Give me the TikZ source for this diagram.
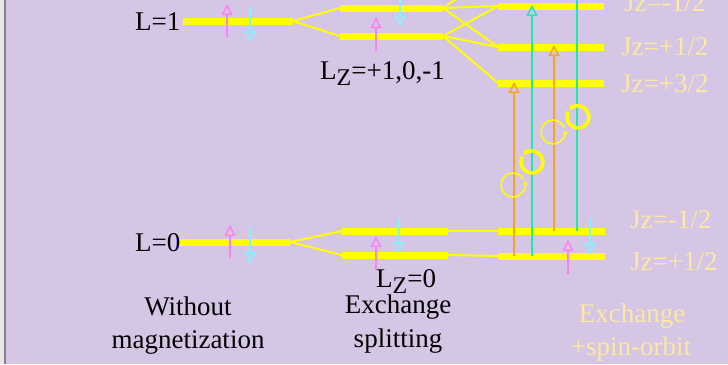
\documentclass[tikz,border=0pt]{standalone}
\usepackage{fontspec}
\setmainfont{Liberation Serif}
\usetikzlibrary{arrows.meta}
\definecolor{bg}{HTML}{D6C6E6}
\definecolor{lvlyel}{HTML}{FFFF00}
\definecolor{spinup}{HTML}{FF80F0}
\definecolor{spindn}{HTML}{80F4FF}
\definecolor{orng}{HTML}{FFA020}
\definecolor{tealc}{HTML}{20E8A8}
\definecolor{paleyel}{HTML}{FCE8A0}
\definecolor{edgegray}{HTML}{E8E8E2}
\definecolor{edgeline}{HTML}{8A7A9A}
\newcommand{\subZ}{\raisebox{-6pt}{\fontsize{24}{24}\selectfont Z}}
\begin{document}
\begin{tikzpicture}[x=1pt,y=-1pt,
  level/.style={line width=7pt, lvlyel},
  link/.style={line width=2pt, lvlyel},
  upspin/.style={line width=2pt, spinup, -{Triangle[open,width=11pt,length=11pt,line width=1.5pt]}},
  dnspin/.style={line width=2pt, spindn, -{Triangle[open,width=11pt,length=11pt,line width=1.5pt]}},
  trans/.style={line width=2.5pt, -{Triangle[open,width=11pt,length=11pt,line width=1.5pt]}},
  thinpol/.style={line width=1.5pt, lvlyel, -{Stealth[length=5pt,width=5pt]}},
  thickpol/.style={line width=3.5pt, lvlyel, -{Stealth[length=5pt,width=6pt]}},
  lbl/.style={font=\fontsize{27}{30}\selectfont, inner sep=0pt, anchor=base west},
  clbl/.style={font=\fontsize{27}{30}\selectfont, inner sep=0pt, anchor=base},
]
\useasboundingbox (0,0) rectangle (728,364);
\clip (0,0) rectangle (728,364);
\fill[bg] (0,0) rectangle (728,364);
\fill[edgegray] (0,0) rectangle (4,364);
\draw[edgeline, line width=1.5pt] (4.8,0) -- (4.8,364);

% ---- level coordinates
% L=1
\coordinate (La) at (183,21); \coordinate (Lb) at (293,21);
\coordinate (Ea) at (340,8);  \coordinate (Eb) at (443,8);
\coordinate (Fa) at (340,36); \coordinate (Fb) at (443,36);
\coordinate (Ja) at (498,6);  \coordinate (Jb) at (604,6);
\coordinate (Ka) at (498,47); \coordinate (Kb) at (604,47);
\coordinate (Ma) at (498,83); \coordinate (Mb) at (604,83);
\coordinate (Up) at (498,-29);
% L=0
\coordinate (Oa) at (180,242); \coordinate (Ob) at (290,242);
\coordinate (Pa) at (342,231); \coordinate (Pb) at (448,231);
\coordinate (Qa) at (342,255); \coordinate (Qb) at (448,255);
\coordinate (Ra) at (498,231); \coordinate (Rb) at (605,231);
\coordinate (Sa) at (498,256); \coordinate (Sb) at (605,256);

% ---- links
\draw[link] (Lb) -- (Ea);
\draw[link] (Lb) -- (Fa);
\draw[link] (Eb) -- (Up);
\draw[link] (Eb) -- (Ja);
\draw[link] (Eb) -- (Ka);
\draw[link] (Fb) -- (Ja);
\draw[link] (Fb) -- (Ka);
\draw[link] (Fb) -- (Ma);
\draw[link] (Ob) -- (Pa);
\draw[link] (Ob) -- (Qa);
\draw[link] (Pb) -- (Ra);
\draw[link] (Qb) -- (Sa);

% ---- levels
\foreach \a/\b in {La/Lb, Ea/Eb, Fa/Fb, Ja/Jb, Ka/Kb, Ma/Mb, Oa/Ob, Pa/Pb, Qa/Qb, Ra/Rb, Sa/Sb}
  \draw[level] (\a) -- (\b);

% ---- spin arrows
\coordinate (u1s) at (227,37); \coordinate (u1e) at (227,4);
\draw[upspin] (u1s) -- (u1e);
\coordinate (d1s) at (250,6); \coordinate (d1e) at (250,42);
\draw[dnspin] (d1s) -- (d1e);
\coordinate (u2s) at (376,51); \coordinate (u2e) at (376,17);
\draw[upspin] (u2s) -- (u2e);
\coordinate (d2s) at (400,-10); \coordinate (d2e) at (400,26);
\draw[dnspin] (d2s) -- (d2e);
\coordinate (u3s) at (230,258); \coordinate (u3e) at (230,225);
\draw[upspin] (u3s) -- (u3e);
\coordinate (d3s) at (250,227); \coordinate (d3e) at (250,263);
\draw[dnspin] (d3s) -- (d3e);
\coordinate (u4s) at (376,270); \coordinate (u4e) at (376,236);
\draw[upspin] (u4s) -- (u4e);
\coordinate (d4s) at (399,218); \coordinate (d4e) at (399,253);
\draw[dnspin] (d4s) -- (d4e);
\coordinate (u5s) at (568,274); \coordinate (u5e) at (568,240);
\draw[upspin] (u5s) -- (u5e);
\coordinate (d5s) at (590,218); \coordinate (d5e) at (590,254);
\draw[dnspin] (d5s) -- (d5e);

% ---- optical transitions
\coordinate (t1s) at (514,256); \coordinate (t1e) at (514,82);
\draw[trans, orng] (t1s) -- (t1e);
\coordinate (t2s) at (532,256); \coordinate (t2e) at (532,5);
\draw[trans, tealc] (t2s) -- (t2e);
\coordinate (t3s) at (554,231); \coordinate (t3e) at (554,45);
\draw[trans, orng] (t3s) -- (t3e);
\coordinate (t4s) at (577,231); \coordinate (t4e) at (577,-30);
\draw[trans, tealc] (t4s) -- (t4e);

% ---- polarisation circles
\coordinate (c1) at (513,185);
\draw[thinpol] (c1) ++(-30:12) arc[start angle=-30, end angle=-380, radius=12];
\coordinate (c2) at (532,162);
\draw[thickpol] (c2) ++(210:11) arc[start angle=210, end angle=-140, radius=11];
\coordinate (c3) at (553,132);
\draw[thinpol] (c3) ++(-20:12) arc[start angle=-20, end angle=-370, radius=12];
\coordinate (c4) at (578,117);
\draw[thickpol] (c4) ++(210:11) arc[start angle=210, end angle=-140, radius=11];

% ---- labels
\node[lbl] (l1) at (135,30) {L=1};
\node[lbl] (l0) at (135,251) {L=0};
\node[lbl] (lz1) at (320,79) {L\subZ=+1,0,-1};
\node[lbl] (lz0) at (376,287) {L\subZ=0};
\node[lbl, text=paleyel] (j1) at (624,12) {Jz=-1/2};
\node[lbl, text=paleyel] (j2) at (621,55) {Jz=+1/2};
\node[lbl, text=paleyel] (j3) at (621,92) {Jz=+3/2};
\node[lbl, text=paleyel] (j4) at (630,228) {Jz=-1/2};
\node[lbl, text=paleyel] (j5) at (630,270) {Jz=+1/2};
\node[clbl] (w1) at (188,315) {Without};
\node[clbl] (w2) at (188,348) {magnetization};
\node[clbl] (x1) at (398,313) {Exchange};
\node[clbl] (x2) at (398,347) {splitting};
\node[clbl, text=paleyel] (s1) at (632,322) {Exchange};
\node[clbl, text=paleyel] (s2) at (631,355) {+spin-orbit};
\end{tikzpicture}
\end{document}
